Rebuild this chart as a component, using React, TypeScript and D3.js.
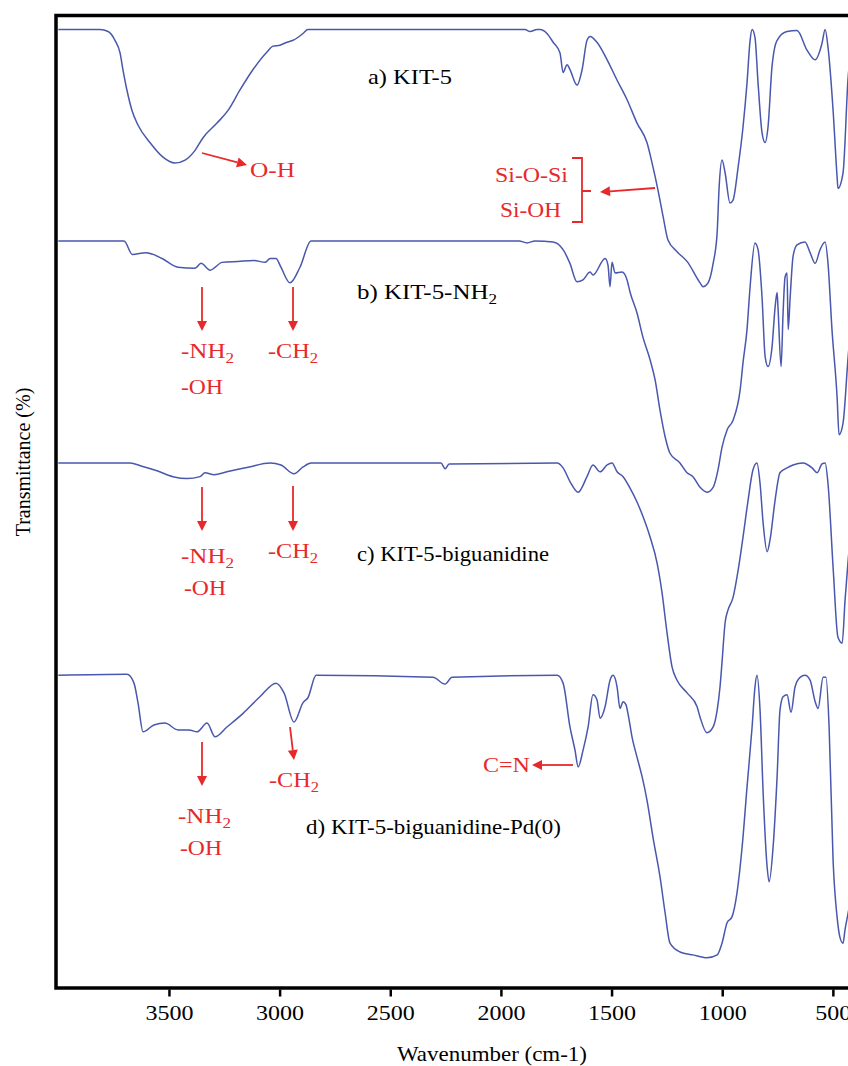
import React, { useRef, useEffect } from 'react';
import * as d3 from 'd3';

const width = 848;
const height = 1066;
const plot = { left: 58.3, right: 855, top: 14, bottom: 988 };

const wavenumberDomain = [4000, 400];
const tickValues = [3500, 3000, 2500, 2000, 1500, 1000, 500];

// [wavenumber (cm-1), transmittance (stacked, arbitrary units 0-100)]
const kit5 = [
  [4000, 98.4], [3812, 98.4], [3775, 98.2], [3744, 97.3], [3721, 96.0], [3708, 94.3], [3690, 92.2],
  [3667, 90.1], [3640, 88.6], [3586, 86.8], [3527, 85.3], [3473, 84.7], [3427, 85.0], [3382, 86.0],
  [3346, 87.3], [3283, 88.8], [3233, 90.1], [3179, 92.2], [3120, 94.3], [3057, 96.1], [3030, 96.7],
  [2998, 96.8], [2967, 97.1], [2939, 97.3], [2894, 98.0], [2872, 98.4], [1891, 98.4], [1868, 98.2],
  [1837, 98.4], [1823, 98.4], [1792, 98.0], [1764, 97.1], [1733, 96.0], [1719, 94.0], [1701, 94.8],
  [1688, 94.3], [1656, 92.7], [1633, 94.3], [1611, 97.3], [1597, 97.7], [1566, 97.1], [1520, 95.3],
  [1475, 93.2], [1430, 91.2], [1385, 88.8], [1340, 86.8], [1313, 84.3], [1290, 81.9], [1267, 79.2],
  [1245, 76.8], [1204, 75.6], [1159, 74.6], [1100, 72.4], [1087, 72.0], [1064, 72.4], [1041, 74.4],
  [1023, 77.5], [1014, 82.2], [1001, 85.0], [987, 83.7], [965, 80.6], [951, 80.9], [928, 84.3],
  [906, 88.4], [888, 92.9], [874, 97.3], [865, 98.4], [852, 97.6], [838, 92.9], [820, 87.8],
  [806, 86.8], [793, 88.4], [775, 94.6], [752, 97.3], [707, 98.2], [662, 98.3], [617, 96.3],
  [580, 95.3], [549, 97.0], [535, 98.4], [522, 96.6], [499, 90.1], [481, 83.3], [477, 82.1],
  [454, 83.7], [431, 93.5], [407, 97.3],
];

const kit5NH2 = [
  [4000, 76.7], [3703, 76.7], [3665, 75.3], [3604, 75.5], [3531, 74.9], [3459, 74.0], [3382, 73.9],
  [3355, 74.4], [3314, 73.7], [3260, 74.5], [3188, 74.6], [3116, 74.7], [3066, 74.5], [3043, 74.9],
  [3016, 74.9], [2994, 74.0], [2953, 72.4], [2908, 74.0], [2858, 76.7], [1918, 76.7], [1882, 76.5],
  [1846, 76.7], [1764, 76.6], [1719, 75.8], [1688, 74.4], [1656, 72.5], [1629, 72.7], [1597, 73.5],
  [1584, 73.2], [1529, 74.9], [1516, 74.2], [1507, 72.0], [1498, 74.5], [1484, 73.4], [1453, 73.5],
  [1430, 72.7], [1416, 71.4], [1385, 69.3], [1358, 66.8], [1326, 64.5], [1303, 62.4], [1281, 59.3],
  [1258, 56.6], [1236, 54.9], [1191, 53.9], [1159, 52.9], [1132, 52.5], [1100, 51.4], [1069, 50.9],
  [1041, 51.4], [1019, 53.2], [1001, 55.5], [978, 57.3], [951, 58.3], [919, 61.4], [906, 64.2],
  [888, 67.6], [874, 72.0], [852, 76.5], [838, 75.8], [820, 70.9], [806, 64.8], [793, 63.8],
  [775, 65.8], [761, 69.9], [752, 71.4], [748, 69.9], [734, 63.8], [725, 69.3], [716, 73.0],
  [707, 73.4], [702, 67.6], [693, 70.9], [680, 75.1], [662, 76.3], [626, 76.6], [603, 75.5],
  [580, 74.4], [558, 75.8], [535, 76.6], [522, 74.4], [504, 67.6], [481, 60.7], [472, 56.8],
  [454, 58.0], [431, 64.8], [407, 70.6],
];

const kit5Biguanidine = [
  [4000, 53.9], [3676, 53.9], [3626, 53.6], [3554, 53.1], [3482, 52.5], [3418, 52.3], [3360, 52.5],
  [3337, 52.9], [3296, 52.7], [3238, 53.0], [3138, 53.5], [3043, 53.9], [2994, 53.7], [2935, 52.8],
  [2894, 53.5], [2858, 53.9], [2271, 53.9], [2252, 53.3], [2234, 53.8], [1746, 53.9], [1719, 53.4],
  [1688, 52.0], [1651, 50.9], [1611, 52.5], [1584, 53.7], [1552, 53.0], [1520, 53.7], [1498, 53.9],
  [1475, 53.0], [1448, 52.5], [1416, 51.3], [1385, 49.9], [1358, 48.4], [1326, 46.3], [1294, 43.6],
  [1272, 40.6], [1249, 36.4], [1227, 33.0], [1204, 31.6], [1159, 30.3], [1114, 28.9], [1100, 27.8],
  [1069, 26.2], [1041, 26.8], [1023, 28.5], [1010, 30.9], [1001, 33.4], [987, 37.5], [974, 38.8],
  [951, 40.1], [928, 42.9], [906, 46.3], [883, 50.1], [861, 53.2], [843, 53.9], [829, 51.8],
  [815, 47.7], [797, 44.8], [784, 46.0], [761, 50.1], [739, 52.9], [707, 53.4], [680, 53.7],
  [635, 53.9], [594, 53.4], [571, 52.9], [549, 53.8], [535, 53.9], [522, 51.8], [499, 43.2],
  [477, 36.0], [458, 35.4], [445, 39.8], [431, 43.9], [407, 49.1],
];

const kit5BiguanidinePd = [
  [4000, 32.1], [3690, 32.2], [3658, 31.3], [3640, 29.3], [3617, 26.3], [3568, 27.0], [3518, 27.2],
  [3459, 26.5], [3409, 26.5], [3373, 26.3], [3328, 27.2], [3292, 25.8], [3238, 26.8], [3165, 28.2],
  [3089, 29.9], [3016, 31.3], [2980, 30.3], [2935, 27.3], [2894, 29.3], [2872, 29.8], [2835, 32.1],
  [2307, 31.9], [2252, 31.2], [2221, 31.9], [1746, 32.1], [1719, 31.3], [1688, 26.8], [1665, 24.4],
  [1651, 22.7], [1629, 24.4], [1606, 26.8], [1584, 30.1], [1566, 29.6], [1552, 27.7], [1529, 28.9],
  [1507, 31.6], [1493, 32.1], [1475, 30.9], [1462, 28.7], [1448, 29.4], [1435, 29.1], [1426, 28.2],
  [1407, 25.7], [1385, 23.7], [1362, 21.7], [1340, 19.3], [1313, 15.5], [1281, 11.4], [1258, 7.7],
  [1236, 4.6], [1191, 3.7], [1132, 3.4], [1069, 3.1], [1023, 3.4], [1001, 4.6], [978, 6.7],
  [956, 7.3], [933, 9.8], [910, 14.5], [888, 20.6], [865, 26.8], [852, 30.9], [843, 32.1],
  [829, 28.5], [815, 20.0], [797, 12.4], [788, 10.9], [770, 14.5], [752, 21.7], [739, 28.5],
  [725, 29.9], [707, 30.1], [689, 28.3], [671, 30.9], [648, 31.9], [626, 32.1], [603, 31.6],
  [580, 29.4], [567, 28.7], [544, 31.9], [531, 31.9], [517, 26.8], [499, 13.1], [481, 7.3],
  [468, 5.2], [454, 4.6], [445, 6.0], [431, 7.7], [407, 11.1],
];

const spectra = [kit5, kit5NH2, kit5Biguanidine, kit5BiguanidinePd];

const sampleLabels = [
  { text: 'a) KIT-5', sub: '', x: 368, y: 84, len: 84 },
  { text: 'b) KIT-5-NH', sub: '2', x: 357, y: 299, len: 140 },
  { text: 'c) KIT-5-biguanidine', sub: '', x: 357, y: 561, len: 192 },
  { text: 'd) KIT-5-biguanidine-Pd(0)', sub: '', x: 306, y: 834, len: 255 },
];

const groupLabels = [
  { text: 'O-H', sub: '', x: 250, y: 177, len: 45 },
  { text: 'Si-O-Si', sub: '', x: 495, y: 182, len: 73 },
  { text: 'Si-OH', sub: '', x: 500, y: 217, len: 61 },
  { text: '-NH', sub: '2', x: 181, y: 358, len: 53 },
  { text: '-OH', sub: '', x: 181, y: 394, len: 42 },
  { text: '-CH', sub: '2', x: 268, y: 358, len: 50 },
  { text: '-NH', sub: '2', x: 181, y: 563, len: 53 },
  { text: '-OH', sub: '', x: 184, y: 595, len: 42 },
  { text: '-CH', sub: '2', x: 268, y: 558, len: 50 },
  { text: '-CH', sub: '2', x: 269, y: 787, len: 50 },
  { text: '-NH', sub: '2', x: 178, y: 823, len: 53 },
  { text: '-OH', sub: '', x: 180, y: 855, len: 42 },
  { text: 'C=N', sub: '', x: 483, y: 772, len: 47 },
];

const arrows = [
  [202, 153, 247, 165],
  [655, 188, 600, 192],
  [202, 287, 202, 331],
  [293, 287, 293, 331],
  [202, 487, 202, 531],
  [293, 486, 293, 531],
  [202, 742, 202, 786],
  [290, 727, 294, 760],
  [573, 765, 532, 765],
];

const red = '#e8292b';
const blue = '#4957ad';
const serif = '"Liberation Serif", "Times New Roman", serif';

export default function App() {
  const ref = useRef(null);

  useEffect(() => {
    const svg = d3.select(ref.current);
    svg.selectAll('*').remove();

    const x = d3.scaleLinear().domain(wavenumberDomain).range([plot.left, plot.right]);
    const y = d3.scaleLinear().domain([0, 100]).range([plot.bottom, plot.top]);

    const line = d3.line()
      .x(d => x(d[0]))
      .y(d => y(d[1]))
      .curve(d3.curveMonotoneX);

    svg.selectAll('path.spectrum')
      .data(spectra)
      .join('path')
      .attr('class', 'spectrum')
      .attr('fill', 'none')
      .attr('stroke', blue)
      .attr('stroke-width', 1.5)
      .attr('stroke-linejoin', 'round')
      .attr('d', line);

    // frame
    svg.append('rect')
      .attr('x', 56)
      .attr('y', 15.5)
      .attr('width', 820)
      .attr('height', plot.bottom - 15.5)
      .attr('fill', 'none')
      .attr('stroke', '#000')
      .attr('stroke-width', 3.5);

    const xAxis = svg.append('g')
      .attr('transform', `translate(0,${plot.bottom + 1.5})`)
      .call(d3.axisBottom(x).tickValues(tickValues).tickSize(7).tickPadding(9).tickFormat(d3.format('d')));
    xAxis.select('.domain').remove();
    xAxis.selectAll('.tick line').attr('stroke', '#000').attr('stroke-width', 2.5);
    xAxis.selectAll('.tick text')
      .attr('fill', '#000')
      .attr('font-family', serif)
      .attr('font-size', 21)
      .attr('textLength', d => (d >= 1000 ? 48 : 36))
      .attr('lengthAdjust', 'spacingAndGlyphs');

    svg.append('text')
      .attr('x', 492)
      .attr('y', 1061)
      .attr('text-anchor', 'middle')
      .attr('font-family', serif)
      .attr('font-size', 21)
      .attr('textLength', 190)
      .attr('lengthAdjust', 'spacingAndGlyphs')
      .text('Wavenumber (cm-1)');

    svg.append('text')
      .attr('transform', 'translate(30,462) rotate(-90)')
      .attr('text-anchor', 'middle')
      .attr('font-family', serif)
      .attr('font-size', 20)
      .text('Transmittance (%)');

    const addLabel = (g, d, color) => {
      const t = g.append('text')
        .attr('x', d.x)
        .attr('y', d.y)
        .attr('fill', color)
        .attr('font-family', serif)
        .attr('font-size', 22)
        .attr('textLength', d.len)
        .attr('lengthAdjust', 'spacingAndGlyphs');
      t.append('tspan').text(d.text);
      if (d.sub) t.append('tspan').attr('font-size', 15).attr('dy', 5).text(d.sub);
    };

    const labels = svg.append('g');
    sampleLabels.forEach(d => addLabel(labels, d, '#000'));
    groupLabels.forEach(d => addLabel(labels, d, red));

    // arrows
    const ann = svg.append('g').attr('stroke', red).attr('fill', red);
    arrows.forEach(([x1, y1, x2, y2]) => {
      const a = Math.atan2(y2 - y1, x2 - x1);
      const hl = 10, hw = 5;
      const bx = x2 - hl * Math.cos(a), by = y2 - hl * Math.sin(a);
      ann.append('line')
        .attr('x1', x1).attr('y1', y1).attr('x2', bx).attr('y2', by)
        .attr('stroke-width', 1.8);
      ann.append('path')
        .attr('stroke', 'none')
        .attr('d', `M${x2},${y2}L${bx - hw * Math.sin(a)},${by + hw * Math.cos(a)}L${bx + hw * Math.sin(a)},${by - hw * Math.cos(a)}Z`);
    });

    // bracket for Si-O-Si / Si-OH
    ann.append('path')
      .attr('fill', 'none')
      .attr('stroke-width', 1.8)
      .attr('d', 'M572,158H582V222H572M582,191H591');
  }, []);

  return (
    <svg
      ref={ref}
      width={width}
      height={height}
      style={{ position: 'absolute', left: 0, top: 0, background: '#fff' }}
    />
  );
}
